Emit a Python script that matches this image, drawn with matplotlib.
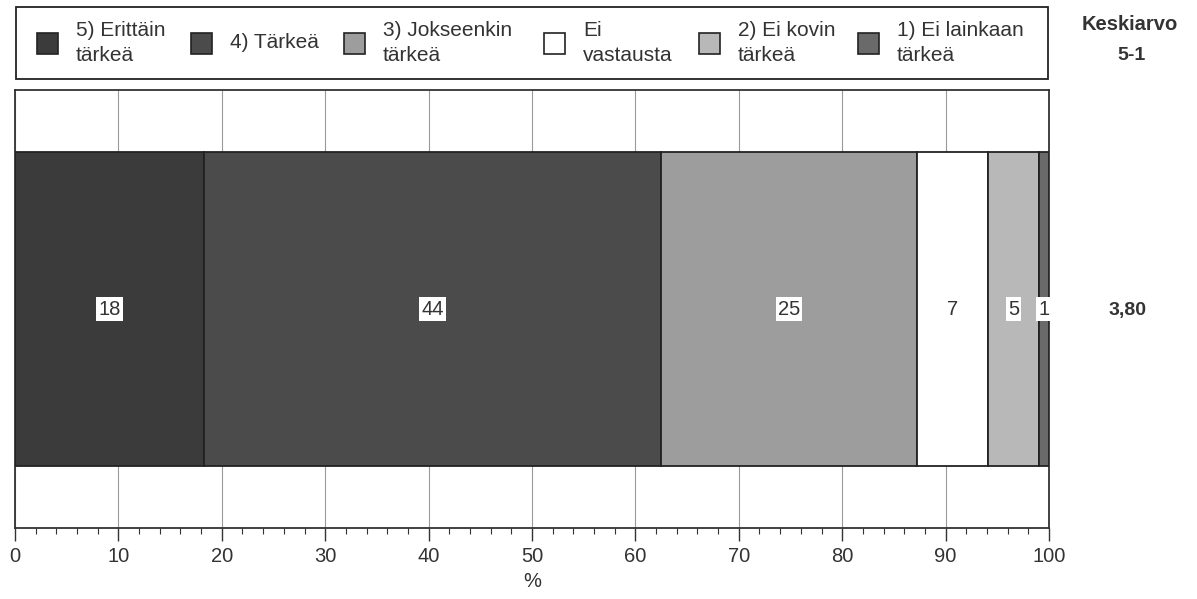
import matplotlib
matplotlib.use("Agg")
import matplotlib.pyplot as plt
from matplotlib.patches import Rectangle

plt.rcParams['font.family'] = ['Liberation Sans', 'DejaVu Sans']

categories = ["5) Erittäin\ntärkeä", "4) Tärkeä", "3) Jokseenkin\ntärkeä",
              "Ei\nvastausta", "2) Ei kovin\ntärkeä", "1) Ei lainkaan\ntärkeä"]
values = [18.3, 44.2, 24.7, 6.9, 4.9, 1.0]
labels = ["18", "44", "25", "7", "5", "1"]
colors = ["#3b3b3b", "#4b4b4b", "#9d9d9d", "#ffffff", "#b8b8b8", "#6a6a6a"]
mean_label = "3,80"
mean_header = ["Keskiarvo", "5-1"]
xticks = list(range(0, 101, 10))

W, H = 1197, 599
fig = plt.figure(figsize=(W/100, H/100), dpi=100)
ax = fig.add_axes([15/W, 1-528/H, (1049-15)/W, (528-90)/H])

TXT = "#333333"
left = 0
for v, lab, c in zip(values, labels, colors):
    ax.barh(0, v, left=left, height=0.717, color=c, edgecolor="#222222", linewidth=1.3, zorder=3)
    bbox = None if c == "#ffffff" else dict(facecolor="white", edgecolor="none", pad=1.5)
    ax.text(left + v/2, 0, lab, ha="center", va="center", fontsize=14.5, color=TXT,
            bbox=bbox, zorder=4)
    left += v

ax.set_xlim(0, 100)
ax.set_ylim(-0.5, 0.5)
ax.set_yticks([])
ax.set_xticks(xticks)
ax.set_xticks(range(0, 101, 2), minor=True)
ax.tick_params(axis="x", which="major", length=9, width=1, labelsize=14.5, colors=TXT, pad=5)
ax.tick_params(axis="x", which="minor", length=4, width=0.8, colors=TXT)
ax.xaxis.grid(True, color="#9a9a9a", linewidth=0.8, zorder=0)
for s in ax.spines.values():
    s.set_color("#333333")
    s.set_linewidth(1.3)
ax.set_xlabel("%", fontsize=14.5, color=TXT, labelpad=4)

# overlay in pixel coordinates for the legend box and side annotations
ov = fig.add_axes([0, 0, 1, 1], zorder=5)
ov.set_xlim(0, W)
ov.set_ylim(H, 0)
ov.axis("off")

ov.add_patch(Rectangle((16, 7), 1048-16, 72, facecolor="white", edgecolor="#222222", linewidth=1.3))
sq_left = [37, 191, 344, 544, 699, 858]
for xl, c, cat in zip(sq_left, colors, categories):
    ov.add_patch(Rectangle((xl, 33), 21, 21, facecolor=c, edgecolor="#222222", linewidth=1.2))
    ov.text(xl + 39, 43, cat, ha="left", va="center", fontsize=15, color=TXT, linespacing=1.38)

ov.text(1130, 24, mean_header[0], ha="center", va="center", fontsize=14.5, fontweight="bold", color=TXT)
ov.text(1131, 55, mean_header[1], ha="center", va="center", fontsize=14, fontweight="bold", color=TXT)
ov.text(1128, 311, mean_label, ha="center", va="center", fontsize=14, fontweight="bold", color=TXT)

fig.savefig("out.png", dpi=100)
